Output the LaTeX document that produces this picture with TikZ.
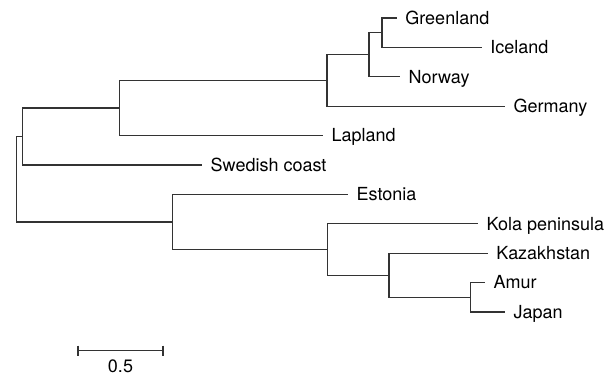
\documentclass[tikz,border=0pt]{standalone}
\usepackage{fontspec}
\setmainfont{TeX Gyre Heros}
\tikzstyle{branch} = [draw=black!80,line width=1.2pt]
\tikzstyle{leaf} = [anchor=west,inner xsep=8.5pt,inner ysep=0pt,text height=12.7pt,text depth=0pt,font=\fontsize{18}{20}\selectfont]
\tikzstyle{tick} = [draw=black!80,line width=1.2pt]

\begin{document}
\begin{tikzpicture}[x=1pt,y=-1pt]
			\useasboundingbox (0,0) rectangle (613,376);
			
			% leaves
			\node[leaf] (greenland) at (396.7,18) {Greenland};
			\node[leaf] (iceland) at (481.7,47.4) {Iceland};
			\node[leaf] (norway) at (400,76.8) {Norway};
			\node[leaf] (germany) at (505,106.2) {Germany};
			\node[leaf] (lapland) at (323,135.6) {Lapland};
			\node[leaf] (swedish) at (202,165) {Swedish coast};
			\node[leaf] (estonia) at (348,194.4) {Estonia};
			\node[leaf] (kola) at (478,223.8) {Kola peninsula};
			\node[leaf] (kazakhstan) at (487.7,253.2) {Kazakhstan};
			\node[leaf] (amur) at (485,282.6) {Amur};
			\node[leaf] (japan) at (505,312) {Japan};
			
			% splits
			\coordinate (f) at (382,32.7);
			\coordinate (e) at (369,54.8);
			\coordinate (d) at (327,80.5);
			\coordinate (c) at (119.3,108);
			\coordinate (a) at (22.3,136.5);
			\coordinate (i) at (470.3,297.3);
			\coordinate (h) at (389,275.2);
			\coordinate (g) at (327.3,249.5);
			\coordinate (b) at (172.7,222);
			\coordinate (root) at (16.7,179.2);
			
			\draw[branch] (f) |- (greenland.west) (f) |- (iceland.west);
			\draw[branch] (e) |- (f) (e) |- (norway.west);
			\draw[branch] (d) |- (e) (d) |- (germany.west);
			\draw[branch] (c) |- (d) (c) |- (lapland.west);
			\draw[branch] (a) |- (c) (a) |- (swedish.west);
			
			\draw[branch] (i) |- (amur.west) (i) |- (japan.west);
			\draw[branch] (h) |- (kazakhstan.west) (h) |- (i);
			\draw[branch] (g) |- (kola.west) (g) |- (h);
			\draw[branch] (b) |- (estonia.west) (b) |- (g);
			
			\draw[branch] (root) |- (a) (root) |- (b);
			
			% scale bar
			\coordinate (sbl) at (78,350.7);
			\coordinate (sbr) at (163,350.7);
			\draw[branch] (sbl) -- (sbr);
			\draw[tick] ([yshift=5pt]sbl) -- ([yshift=-5pt]sbl);
			\draw[tick] ([yshift=5pt]sbr) -- ([yshift=-5pt]sbr);
			\node[font=\fontsize{18}{20}\selectfont,anchor=base] (scale) at (120.5,372.5) {0.5};
			
\end{tikzpicture}
\end{document}
